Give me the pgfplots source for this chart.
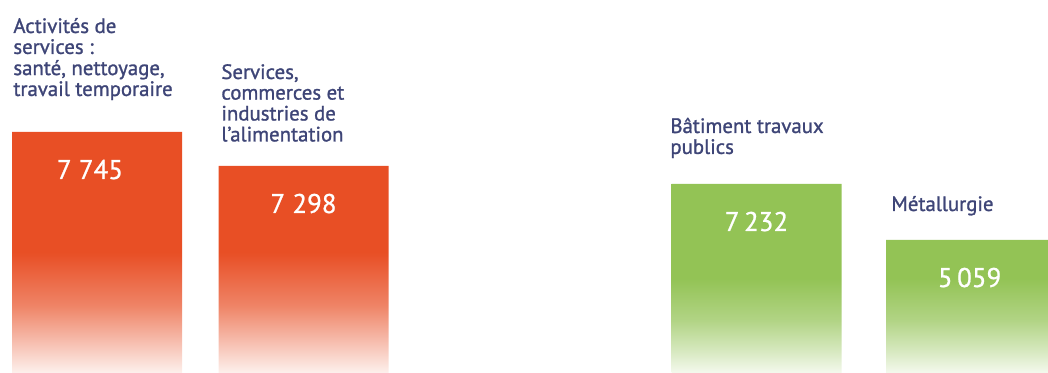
\documentclass[border=0pt]{standalone}
\usepackage{pgfplots}
\pgfplotsset{compat=1.18}
\usepackage{pgfplotstable}
\usepackage{fontspec}
\setmainfont{PT Sans}
\newfontfamily\catfont{PT Sans}[FakeBold=1.2]
\newfontfamily\valfont{PT Sans}[FakeBold=0.8]
\definecolor{orangec}{HTML}{E84F25}
\definecolor{greenc}{HTML}{93C355}
\definecolor{txtc}{HTML}{3E4577}
\pgfdeclareverticalshading{redfade}{100bp}{%
  color(0bp)=(orangec!8!white); color(25bp)=(orangec!8!white);
  color(31bp)=(orangec!35!white); color(39bp)=(orangec!70!white);
  color(50bp)=(orangec); color(100bp)=(orangec)}
\pgfdeclareverticalshading{greenfade}{100bp}{%
  color(0bp)=(greenc!10!white); color(25bp)=(greenc!10!white);
  color(31bp)=(greenc!38!white); color(39bp)=(greenc!72!white);
  color(50bp)=(greenc); color(100bp)=(greenc)}
% x: bar centre (px), h: drawn bar height (px, as in the picture), v: label, dx: label offset (pt)
\pgfplotstableread[col sep=comma]{
x,h,v,dx
97,241,7 745,-3.5
303.5,207,7 298,0
}\redtab
\pgfplotstableread[col sep=comma]{
x,h,v,dx
756.5,189,7\,232,0
971,133,5\,059,-0.7
}\greentab
\newcommand\cat[1]{{\catfont\fontsize{10.4}{10.3}\selectfont\color{txtc}\begin{tabular}[t]{@{}l@{}}#1\end{tabular}}}
\begin{document}
\begin{tikzpicture}
\begin{axis}[
  scale only axis, width=524pt, height=186.5pt,
  xmin=0, xmax=1048, ymin=0, ymax=373,
  axis lines=none, clip=true,
  nodes near coords, point meta=explicit symbolic,
  visualization depends on={\thisrow{dx} \as \dx},
  every node near coord/.style={anchor=base, yshift=-23.5pt, xshift=\dx pt, text=white,
     font=\valfont\fontsize{13.5}{14}\selectfont},
]
\path (rel axis cs:0,0) rectangle (rel axis cs:1,1);
\addplot[ybar, bar width=170, bar shift=0pt, draw=none, shading=redfade]
  table[x=x, y=h, meta=v] {\redtab};
\addplot[ybar, bar width=170, bar shift=0pt, draw=none, shading=greenfade]
  table[x=x, y=h, meta=v] {\greentab};
\node[anchor=base west, inner sep=0] at (axis cs:13,340) {\cat{Activités de\\services :\\santé, nettoyage,\\travail temporaire}};
\node[anchor=base west, inner sep=0] at (axis cs:221,294) {\cat{Services,\\commerces et\\industries de\\l’alimentation}};
\node[anchor=base west, inner sep=0] at (axis cs:670,240) {\cat{Bâtiment travaux\\publics}};
\node[anchor=base west, inner sep=0] at (axis cs:891,162) {\cat{Métallurgie}};
\end{axis}
\end{tikzpicture}
\end{document}
